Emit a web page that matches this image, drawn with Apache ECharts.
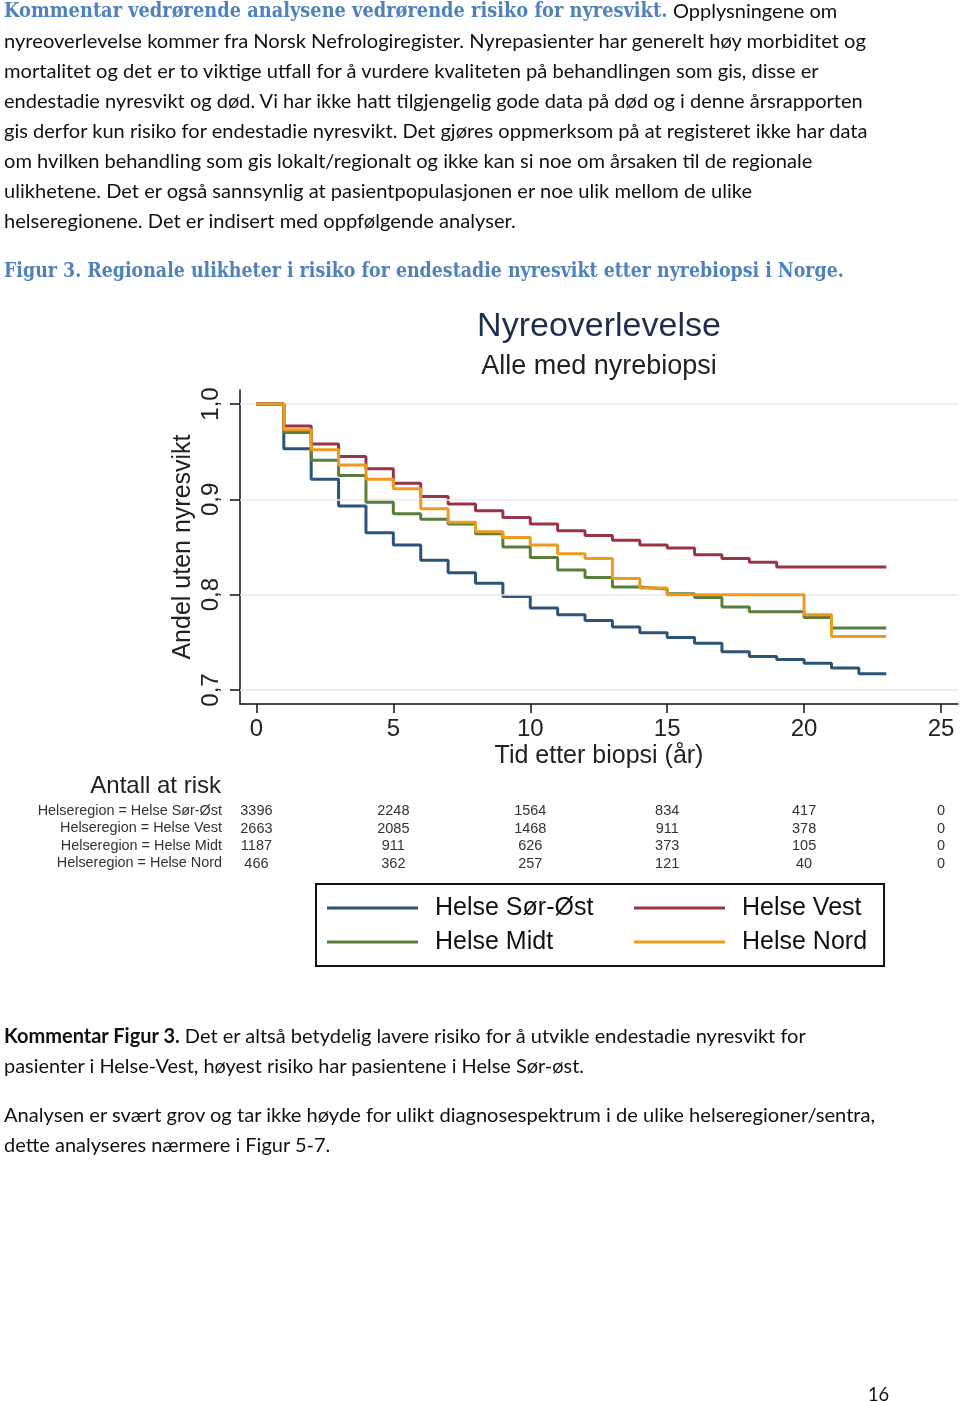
<!DOCTYPE html>
<html><head><meta charset="utf-8">
<script src="https://cdn.jsdelivr.net/npm/echarts@6/dist/echarts.min.js"></script>
<style>
html,body{margin:0;padding:0;background:#fff;}
#page{position:relative;width:960px;height:1402px;overflow:hidden;background:#fff;}
#chart{position:absolute;left:0;top:0;width:960px;height:1402px;}
.seg{position:absolute;white-space:nowrap;font-family:Lato,'Open Sans',sans-serif;font-size:20px;color:#111;transform-origin:0 50%;line-height:24px;}
.hd{font-family:'DejaVu Serif','Liberation Serif',serif;font-weight:bold;color:#4f81bd;font-size:20px;}
</style></head>
<body><div id="page"><div id="chart"></div></div>
<script>
// ---------- data ----------
const years = [0,1,2,3,4,5,6,7,8,9,10,11,12,13,14,15,16,17,18,19,20,21,22,23];
const sorOst = [1.0,0.953,0.921,0.893,0.865,0.852,0.836,0.823,0.812,0.798,0.786,0.779,0.773,0.766,0.760,0.755,0.749,0.740,0.735,0.732,0.728,0.723,0.717,0.717];
const vest   = [1.0,0.977,0.958,0.945,0.932,0.917,0.903,0.895,0.888,0.881,0.874,0.867,0.862,0.857,0.852,0.849,0.842,0.838,0.834,0.829,0.829,0.829,0.829,0.829];
const midt   = [1.0,0.970,0.941,0.925,0.897,0.885,0.879,0.874,0.864,0.850,0.839,0.826,0.818,0.808,0.806,0.801,0.797,0.787,0.782,0.782,0.776,0.765,0.765,0.765];
const nord   = [1.0,0.973,0.952,0.936,0.921,0.911,0.890,0.876,0.866,0.860,0.852,0.843,0.838,0.817,0.807,0.800,0.800,0.800,0.800,0.800,0.779,0.756,0.756,0.756];
const seriesNames = ['Helse Sør-Øst','Helse Vest','Helse Midt','Helse Nord'];
const seriesColors = ['#2b5478','#973448','#5b7d3c','#ee9a1f'];

const xTicks = [0,5,10,15,20,25];
const yTicks = [0.7,0.8,0.9,1.0];

const riskTimes = [0,5,10,15,20,25];
const riskLabels = ['Helseregion = Helse Sør-Øst','Helseregion = Helse Vest','Helseregion = Helse Midt','Helseregion = Helse Nord'];
const riskSorOst = [3396,2248,1564,834,417,0];
const riskVest   = [2663,2085,1468,911,378,0];
const riskMidt   = [1187,911,626,373,105,0];
const riskNord   = [466,362,257,121,40,0];

// ---------- page text ----------
const textSegs = [
 {x:4,y:10,w:663,cls:'hd',html:'Kommentar vedrørende analysene vedrørende risiko for nyresvikt.'},
 {x:673,y:10,w:164,html:'Opplysningene om'},
 {x:4,y:40,w:862,html:'nyreoverlevelse kommer fra Norsk Nefrologiregister. Nyrepasienter har generelt høy morbiditet og'},
 {x:4,y:70,w:815,html:'mortalitet og det er to viktige utfall for å vurdere kvaliteten på behandlingen som gis, disse er'},
 {x:4,y:100,w:859,html:'endestadie nyresvikt og død. Vi har ikke hatt tilgjengelig gode data på død og i denne årsrapporten'},
 {x:4,y:130,w:863,html:'gis derfor kun risiko for endestadie nyresvikt. Det gjøres oppmerksom på at registeret ikke har data'},
 {x:4,y:160,w:808,html:'om hvilken behandling som gis lokalt/regionalt og ikke kan si noe om årsaken til de regionale'},
 {x:4,y:190,w:748,html:'ulikhetene. Det er også sannsynlig at pasientpopulasjonen er noe ulik mellom de ulike'},
 {x:4,y:220,w:512,html:'helseregionene. Det er indisert med oppfølgende analyser.'},
 {x:4,y:270,w:840,cls:'hd',html:'Figur 3. Regionale ulikheter i risiko for endestadie nyresvikt etter nyrebiopsi i Norge.'},
 {x:4,y:1035,w:802,html:'<b>Kommentar Figur 3.</b> Det er altså betydelig lavere risiko for å utvikle endestadie nyresvikt for'},
 {x:4,y:1065,w:580,html:'pasienter i Helse-Vest, høyest risiko har pasientene i Helse Sør-øst.'},
 {x:4,y:1114,w:871,html:'Analysen er svært grov og tar ikke høyde for ulikt diagnosespektrum i de ulike helseregioner/sentra,'},
 {x:4,y:1144,w:326,html:'dette analyseres nærmere i Figur 5-7.'},
 {x:868,y:1393,w:21,html:'16'}
];
const page = document.getElementById('page');
textSegs.forEach(s => {
  const d = document.createElement('div');
  d.className = 'seg' + (s.cls ? ' ' + s.cls : '');
  d.innerHTML = s.html;
  d.style.left = s.x + 'px';
  d.style.top = (s.y - 12) + 'px';
  page.appendChild(d);
  const w = d.offsetWidth;
  if (w > 0) d.style.transform = 'scaleX(' + (s.w / w) + ')';
});

// ---------- chart ----------
const FONT = "'Liberation Sans', Arial, sans-serif";
const chart = echarts.init(document.getElementById('chart'), null, {renderer: 'canvas'});
const allVals = [sorOst, vest, midt, nord];

const series = [{
  type: 'line', data: [], z: 1, silent: true,
  markLine: {
    silent: true, symbol: 'none', label: {show: false},
    lineStyle: {color: '#e4e9ed', width: 1.5, type: 'solid'},
    data: yTicks.map(v => ({yAxis: v}))
  }
}];
seriesNames.forEach((n, i) => {
  series.push({
    name: n, type: 'line', step: 'end', showSymbol: false, symbol: 'none',
    color: seriesColors[i], z: 3 + i,
    lineStyle: {width: 3, color: seriesColors[i]},
    data: years.map((t, k) => [t, allVals[i][k]])
  });
});

chart.setOption({
  animation: false,
  backgroundColor: 'transparent',
  title: {
    text: 'Nyreoverlevelse', subtext: 'Alle med nyrebiopsi',
    left: 599, top: 307, textAlign: 'center', padding: 0, itemGap: 5,
    textStyle: {fontFamily: FONT, fontSize: 34, fontWeight: 'normal', color: '#1f2e4c', lineHeight: 40},
    subtextStyle: {fontFamily: FONT, fontSize: 27, color: '#222', lineHeight: 30}
  },
  grid: {left: 240, top: 390, width: 718, height: 314, containLabel: false},
  xAxis: {
    type: 'value', min: -0.6, max: 25.62,
    name: 'Tid etter biopsi (år)', nameLocation: 'middle', nameGap: 40,
    nameTextStyle: {fontFamily: FONT, fontSize: 25, color: '#222'},
    axisLine: {show: true, onZero: false, lineStyle: {color: '#111', width: 1.5}},
    axisTick: {show: true, customValues: xTicks, length: 9, lineStyle: {color: '#111', width: 1.5}},
    axisLabel: {customValues: xTicks, margin: 13, fontFamily: FONT, fontSize: 24, color: '#222'},
    splitLine: {show: false}
  },
  yAxis: {
    type: 'value', min: 0.6853, max: 1.0147,
    name: 'Andel uten nyresvikt', nameLocation: 'middle', nameGap: 44, nameRotate: 90,
    nameMoveOverlap: false,
    nameTextStyle: {fontFamily: FONT, fontSize: 25, color: '#222'},
    axisLine: {show: true, onZero: false, lineStyle: {color: '#111', width: 1.5}},
    axisTick: {show: true, customValues: yTicks, length: 10, lineStyle: {color: '#111', width: 1.5}},
    axisLabel: {customValues: yTicks, rotate: 90, margin: 17, fontFamily: FONT, fontSize: 24, color: '#222',
      formatter: v => v.toFixed(1).replace('.', ',')},
    splitLine: {show: false}
  },
  legend: {
    left: 316, top: 884, width: 545, orient: 'horizontal',
    padding: [11, 17, 11, 11],
    borderColor: '#111', borderWidth: 2,
    itemWidth: 91, itemHeight: 3, icon: 'rect', itemGap: 8,
    selectedMode: false,
    textStyle: {fontFamily: FONT, fontSize: 25, color: '#111', lineHeight: 26, padding: [0, 0, 0, 12]},
    data: [
      {name: 'Helse Sør-Øst', textStyle: {width: 191}},
      {name: 'Helse Vest', textStyle: {width: 124}},
      {name: 'Helse Midt', textStyle: {width: 191}},
      {name: 'Helse Nord', textStyle: {width: 124}}
    ]
  },
  series: series
});

// at-risk table
const riskRows = [riskSorOst, riskVest, riskMidt, riskNord];
const rowY = [811, 828.5, 846, 863.5];
const graphics = [{
  type: 'text', x: 221, y: 786,
  style: {text: 'Antall at risk', font: "24px " + FONT, fill: '#222', align: 'right', verticalAlign: 'middle'}
}];
riskLabels.forEach((lab, r) => {
  graphics.push({type: 'text', x: 222, y: rowY[r],
    style: {text: lab, font: "14.4px " + FONT, fill: '#333', align: 'right', verticalAlign: 'middle'}});
  riskTimes.forEach((t, c) => {
    const px = chart.convertToPixel({xAxisIndex: 0}, t);
    graphics.push({type: 'text', x: px, y: rowY[r],
      style: {text: String(riskRows[r][c]), font: "14.5px " + FONT, fill: '#333', align: 'center', verticalAlign: 'middle'}});
  });
});
chart.setOption({graphic: graphics});
</script>
</body></html>
